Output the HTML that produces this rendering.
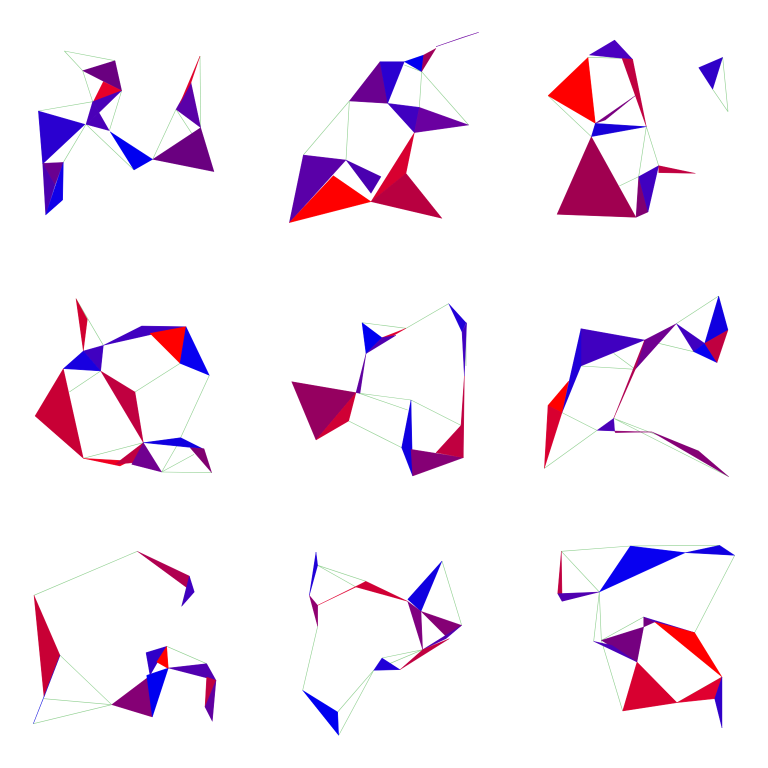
<!DOCTYPE html>
<html><head><meta charset="utf-8"><style>html,body{margin:0;padding:0;background:#fff}svg{display:block}</style></head>
<body>
<svg id="chart" width="768" height="768" viewBox="0 0 768 768" xmlns="http://www.w3.org/2000/svg"></svg>
<script>
// panel origins (column,row)
const panelCols = [0,1,2,0,1,2,0,1,2];
const panelRows = [0,0,0,1,1,1,2,2,2];
// triangles per panel: [x1,y1,x2,y2,x3,y3,color] in panel units (0..768)
const tris1 = [[248,212,345,182,365,272,'#6a0080'],[280,305,310,245,365,272,'#e8002a'],[278,305,365,272,297,338,'#4a00b8'],[278,305,297,338,258,373,'#4a00b8'],[258,373,297,338,328,392,'#4a00b8'],[115,333,255,373,128,492,'#2a00d0'],[128,490,190,487,165,555,'#6a0090'],[128,490,165,555,137,645,'#4a00b0'],[190,487,188,600,137,645,'#1000e8'],[330,395,458,478,402,510,'#0000f0'],[458,478,602,383,642,515,'#6a0080'],[528,328,573,248,602,383,'#5a00a8'],[540,310,600,168,573,248,'#e0002a']];
const lines1 = [[193,153,345,182],[193,153,248,212],[248,212,278,305],[115,333,278,305],[365,272,328,392],[258,373,402,510],[258,373,190,487],[458,478,528,328],[528,328,575,400],[600,168,602,383]];
const tris2 = [[280,303,372,185,395,310,'#6a0090'],[372,185,445,185,395,310,'#2a00d0'],[445,185,503,165,497,215,'#0000f0'],[497,215,540,145,503,165,'#a0005a'],[540,140,668,97,620,112,'#6a00a0'],[395,310,490,322,475,398,'#4000c0'],[490,322,638,375,475,398,'#6a00a0'],[475,398,450,520,345,605,'#d80030'],[345,605,450,520,558,655,'#b80040'],[142,465,270,480,100,668,'#5a00a8'],[100,668,232,527,345,605,'#ff0000'],[270,480,375,530,345,580,'#4a00b0']];
const lines2 = [[280,303,142,465],[280,303,270,480],[445,195,497,215],[497,215,490,322],[497,215,638,375]];
const tris3 = [[232,165,308,120,362,178,'#4a00c0'],[108,287,228,172,250,370,'#ff0000'],[330,175,362,178,403,380,'#c00040'],[250,370,370,287,280,360,'#7a0080'],[250,370,403,380,238,410,'#1800d8'],[238,410,372,652,135,643,'#a00050'],[380,530,372,652,408,636,'#800070'],[380,530,440,497,408,636,'#4000c0'],[440,497,550,520,440,518,'#c00040'],[560,203,632,172,602,268,'#3000c8']];
const lines3 = [[228,172,330,175],[108,287,238,410],[403,380,380,530],[403,380,440,497],[322,558,380,530],[632,172,648,335],[602,268,648,335]];
const tris4 = [[228,128,262,190,250,285,'#d00030'],[250,285,310,268,302,345,'#4000c0'],[190,338,250,285,302,345,'#1800e0'],[310,268,425,210,558,212,'#4000c0'],[450,232,558,212,540,322,'#ff0000'],[558,212,628,358,540,322,'#0800f0'],[105,480,190,338,250,607,'#c80035'],[302,345,405,408,430,560,'#c00040'],[250,607,360,630,390,615,'#f00020'],[345,625,430,560,400,620,'#c00040'],[430,560,485,648,395,625,'#700090'],[430,560,542,545,608,578,'#1000e0'],[570,575,612,578,635,650,'#800070']];
const lines4 = [[208,408,302,345],[405,408,540,322],[628,358,542,545],[250,607,430,560],[485,648,635,650],[485,648,582,595],[485,648,530,570],[228,128,310,268]];
const tris5 = [[318,200,378,245,330,293,'#0000f0'],[378,245,450,217,410,240,'#e00030'],[330,293,420,238,378,245,'#5000b0'],[330,293,300,410,312,412,'#6000a0'],[107,377,300,410,180,552,'#950060'],[180,552,300,410,278,495,'#d00035'],[578,143,630,200,618,228,'#2000d8'],[618,228,632,200,625,360,'#4000c0'],[465,432,437,575,470,660,'#1000e0'],[465,580,622,605,470,660,'#850075'],[540,590,615,508,622,605,'#c00040'],[615,508,625,360,622,605,'#c00040']];
const lines5 = [[318,200,450,217],[450,217,578,143],[310,412,465,432],[310,412,455,462],[278,495,437,575],[465,432,615,508],[630,200,630,330]];
const tris6 = [[207,218,398,252,207,330,'#4000c0'],[207,218,207,330,150,470,'#2000d8'],[108,448,170,375,150,470,'#ff0000'],[108,448,150,470,97,637,'#d80030'],[398,252,493,203,370,340,'#700090'],[398,252,305,487,370,340,'#b00050'],[493,203,578,262,545,287,'#4000c0'],[578,262,615,320,545,287,'#0800f0'],[620,120,648,222,578,262,'#1000e0'],[648,222,578,262,615,320,'#c00040'],[255,523,305,487,308,525,'#4a00b8'],[308,525,420,528,310,530,'#900070'],[420,528,560,585,650,662,'#850075']];
const lines6 = [[493,203,620,120],[440,262,545,287],[207,330,370,340],[305,292,370,340],[150,470,255,523],[97,637,255,523],[305,487,650,662],[305,487,560,585]];
const tris7 = [[412,118,568,192,578,240,'#b00050'],[568,192,583,240,545,283,'#4000c0'],[102,250,180,430,132,555,'#c80035'],[180,430,100,635,132,555,'#2020e0'],[335,578,445,495,457,615,'#850075'],[440,490,505,468,457,615,'#0000f0'],[438,422,500,403,450,490,'#3000c8'],[470,450,500,403,505,470,'#ff0000'],[505,468,620,455,648,505,'#5000b0'],[620,495,648,505,615,585,'#c00040'],[615,585,648,505,637,628,'#6000a0']];
const lines7 = [[102,250,412,118],[180,430,335,578],[132,560,335,578],[100,635,335,578],[500,403,620,455],[568,192,545,283]];
const tris8 = [[180,120,185,160,160,250,'#2000d8'],[160,250,185,280,185,343,'#900070'],[185,280,330,208,300,225,'#e00030'],[300,225,330,208,455,268,'#d00035'],[455,262,558,147,495,298,'#1000e0'],[455,268,495,298,500,413,'#800080'],[495,298,617,340,572,375,'#850075'],[617,340,500,413,570,380,'#5000b0'],[500,413,580,380,432,473,'#c00040'],[353,475,378,438,432,473,'#2000d8'],[140,535,245,600,248,670,'#0000f0']];
const lines8 = [[185,160,330,208],[185,160,300,225],[558,147,617,340],[185,343,140,535],[378,438,500,413],[353,475,500,413],[353,475,245,600],[353,475,248,670]];
const tris9 = [[148,118,150,245,137,245,'#c00040'],[137,245,262,240,150,268,'#5000b0'],[262,240,355,102,520,122,'#0800f0'],[520,122,623,100,668,130,'#1000e0'],[268,385,395,345,375,450,'#750080'],[245,388,375,450,300,400,'#4a00b8'],[395,315,428,330,395,345,'#750080'],[395,315,548,362,428,330,'#4a00b8'],[428,330,548,362,630,495,'#ff0000'],[375,450,495,572,332,597,'#d80030'],[495,572,630,495,608,560,'#e00030'],[630,495,608,560,630,648,'#3000c8']];
const lines9 = [[148,118,355,102],[355,102,623,100],[148,118,262,240],[262,240,245,388],[262,240,268,385],[668,130,548,362],[268,385,395,315],[268,385,332,597],[495,572,630,495]];

const allTris = [tris1,tris2,tris3,tris4,tris5,tris6,tris7,tris8,tris9];
const allLines = [lines1,lines2,lines3,lines4,lines5,lines6,lines7,lines8,lines9];

const NS = 'http://www.w3.org/2000/svg';
const svg = document.getElementById('chart');
function xScale(p, v){ return panelCols[p]*256 + v/3; }
function yScale(p, v){ return panelRows[p]*256 + v/3; }

for (let p = 0; p < 9; p++) {
  const g = document.createElementNS(NS, 'g');
  
  
  svg.appendChild(g);
  allLines[p].forEach(function(l){
    const ln = document.createElementNS(NS, 'line');
    
    
    ln.setAttribute('x1', xScale(p,l[0])); ln.setAttribute('y1', yScale(p,l[1]));
    ln.setAttribute('x2', xScale(p,l[2])); ln.setAttribute('y2', yScale(p,l[3]));
    ln.setAttribute('stroke', '#8fcf8f'); ln.setAttribute('stroke-width', '0.6');
    g.appendChild(ln);
  });
  allTris[p].forEach(function(t){
    const pg = document.createElementNS(NS, 'polygon');
    
    
    pg.setAttribute('points', xScale(p,t[0])+','+yScale(p,t[1])+' '+xScale(p,t[2])+','+yScale(p,t[3])+' '+xScale(p,t[4])+','+yScale(p,t[5]));
    pg.setAttribute('fill', t[6]);
    pg.setAttribute('stroke', t[6]);
    pg.setAttribute('stroke-width', '0.4');
    g.appendChild(pg);
  });
}
</script>
</body></html>
